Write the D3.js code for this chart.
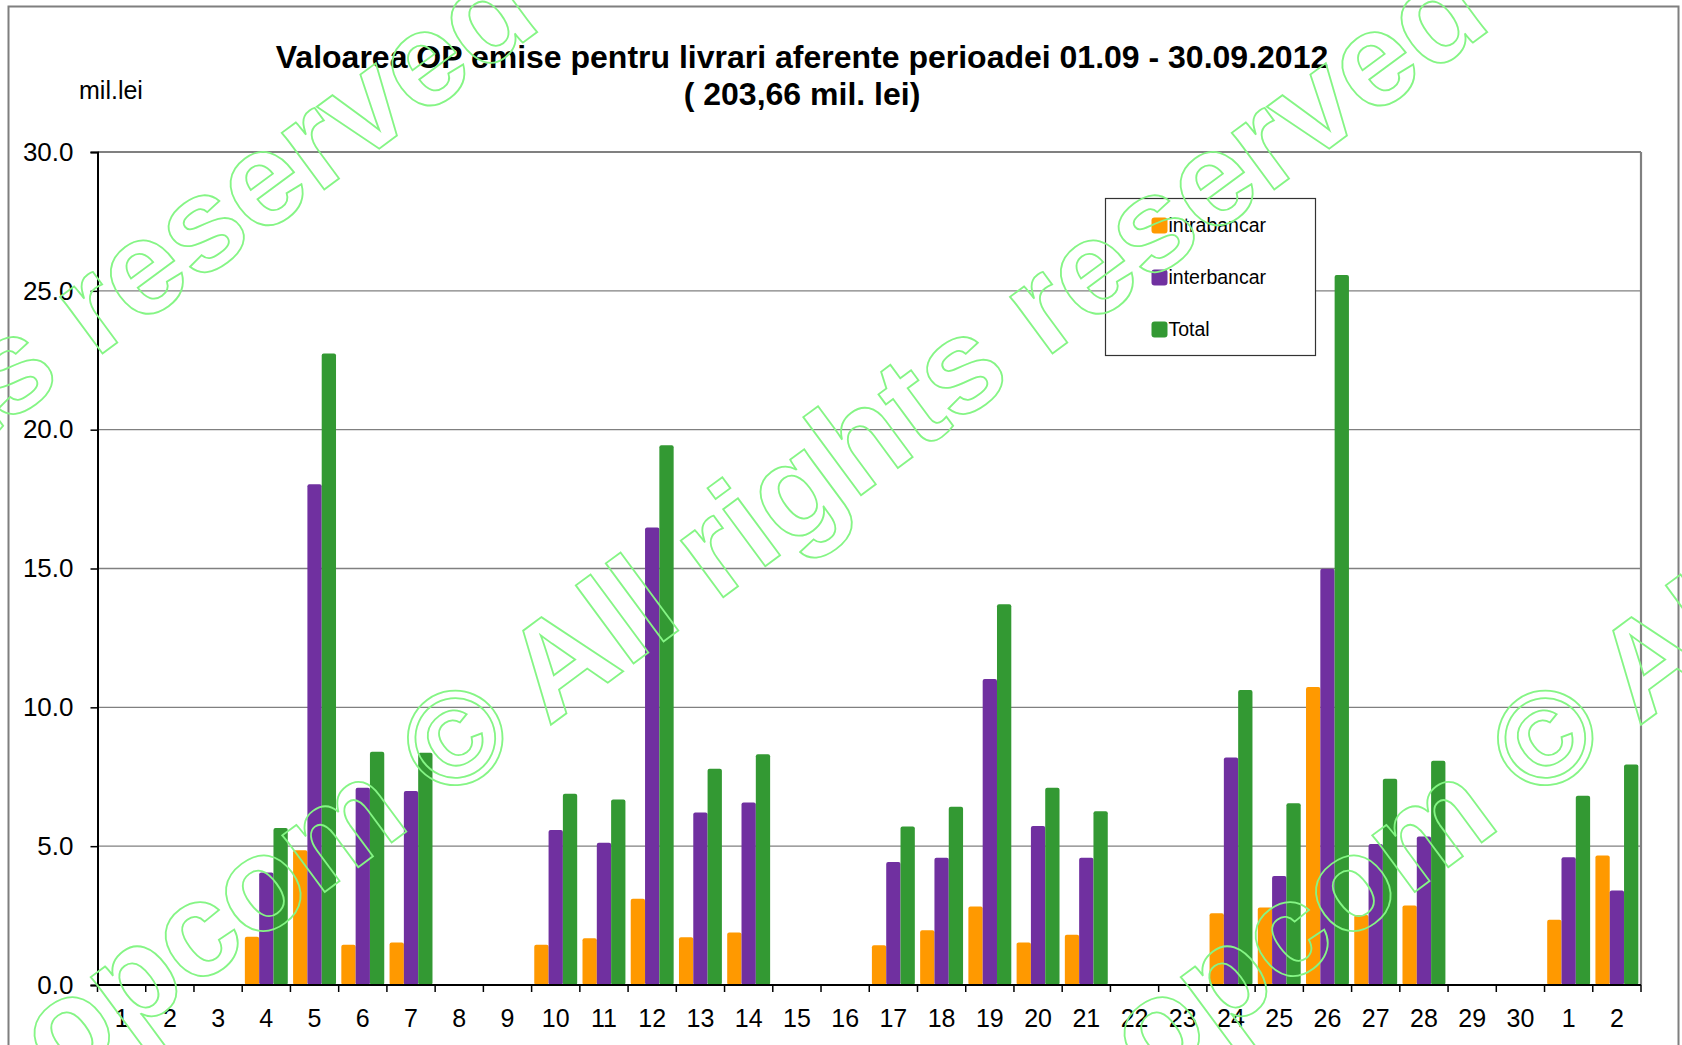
<!DOCTYPE html>
<html>
<head>
<meta charset="utf-8">
<script src="https://cdn.jsdelivr.net/npm/d3@7"></script>
<style>
  body { margin: 0; background: #fff; }
  svg text { font-family: Arial, "Liberation Sans", sans-serif; }
</style>
</head>
<body>
<div id="chart"></div>
<script>

let categories = ["01.09","02.09","03.09","04.09","05.09","06.09","07.09","08.09","09.09","10.09",
  "11.09","12.09","13.09","14.09","15.09","16.09","17.09","18.09","19.09","20.09",
  "21.09","22.09","23.09","24.09","25.09","26.09","27.09","28.09","29.09","30.09","01.10","02.10"]

let tick_labels = ["1","2","3","4","5","6","7","8","9","10","11","12","13","14","15","16",
  "17","18","19","20","21","22","23","24","25","26","27","28","29","30","1","2"]

let series_names = ["intrabancar", "interbancar", "Total"]
let series_colors = ["#FF9900", "#7030A0", "#339933"]

let intrabancar = [0,0,0,1.74,4.85,1.45,1.53,0,0,1.45,1.68,3.11,1.72,1.89,0,0,
  1.43,1.97,2.83,1.53,1.81,0,0,2.58,2.79,10.73,2.52,2.86,0,0,2.35,4.66]
let interbancar = [0,0,0,4.05,18.03,7.10,6.99,0,0,5.58,5.12,16.48,6.21,6.57,0,0,
  4.43,4.58,11.02,5.73,4.58,0,0,8.19,3.93,14.99,5.08,5.35,0,0,4.60,3.40]
let total = [0,0,0,5.65,22.74,8.40,8.36,0,0,6.89,6.68,19.44,7.79,8.31,0,0,
  5.71,6.42,13.71,7.10,6.26,0,0,10.62,6.55,25.57,7.43,8.08,0,0,6.82,7.94]

let y_ticks = [0, 5, 10, 15, 20, 25, 30]

let title_lines = ["Valoarea OP emise pentru livrari aferente perioadei 01.09 - 30.09.2012", "( 203,66 mil. lei)"]
let unit_label = "mil.lei"
let watermark = "opcom \u00A9 All rights reserved"

let values = [intrabancar, interbancar, total]
let data = categories.map((c, i) => ({cat: c, vals: values.map((v, j) => ({name: series_names[j], value: v[i]}))}))

let W = 1682, H = 1045
let margin = {top: 152, right: 41, bottom: 60, left: 97.5}

let svg = d3.select("#chart")
  .append("svg")
  .attr("width", W)
  .attr("height", H)

// outer chart frame
svg.append("rect")
  .attr("x", 8.5).attr("y", 6.5)
  .attr("width", 1670).attr("height", 1100)
  .attr("fill", "none")
  .attr("stroke", "#7f7f7f")
  .attr("stroke-width", 2)

let x0 = margin.left, x1 = W - margin.right
let y0 = H - margin.bottom, y1 = margin.top

let x = d3.scaleBand()
  .domain(categories)
  .range([x0, x1])

let xs = d3.scaleBand()
  .domain(series_names)
  .range([x.step() * 0.055, x.step() * 0.945])

let y = d3.scaleLinear()
  .domain([0, 30])
  .range([y0, y1])

// gridlines
svg.append("g")
  .selectAll("line")
  .data(y_ticks.filter(d => d > 0))
  .enter()
  .append("line")
  .attr("x1", x0).attr("x2", x1)
  .attr("y1", d => y(d)).attr("y2", d => y(d))
  .attr("stroke", "#808080")
  .attr("stroke-width", d => d == 30 ? 2.2 : 1.4)

// plot area right border
svg.append("line")
  .attr("x1", x1).attr("x2", x1)
  .attr("y1", y1).attr("y2", y0)
  .attr("stroke", "#808080")
  .attr("stroke-width", 2.2)

// bars
let groups = svg.selectAll(".day")
  .data(data)
  .enter()
  .append("g")
  .attr("class", "day")
  .attr("transform", d => "translate(" + x(d.cat) + ",0)")

groups.selectAll("rect")
  .data(d => d.vals.filter(v => v.value > 0))
  .enter()
  .append("rect")
  .attr("x", d => xs(d.name))
  .attr("width", xs.bandwidth())
  .attr("y", d => y(d.value))
  .attr("height", d => y0 - y(d.value))
  .attr("rx", 2)
  .attr("fill", d => series_colors[series_names.indexOf(d.name)])

// y axis
let y_axis = svg.append("g")
  .attr("transform", "translate(" + x0 + ",0)")
  .call(d3.axisLeft(y).tickValues(y_ticks).tickFormat(d3.format(".1f")).tickSize(7).tickPadding(17))

y_axis.select(".domain").attr("stroke", "#000").attr("stroke-width", 2)
y_axis.selectAll(".tick line").attr("stroke", "#000").attr("stroke-width", 1.5)
y_axis.selectAll("text")
  .style("font-size", "26px")
  .attr("fill", "#000")

// x axis, ticks at category boundaries
let x_axis = svg.append("g")
  .attr("transform", "translate(0," + y0 + ")")
  .call(d3.axisBottom(x).tickSize(0).tickPadding(24).tickFormat((d, i) => tick_labels[i]))

x_axis.select(".domain").remove()
x_axis.selectAll("text")
  .style("font-size", "25px")
  .attr("fill", "#000")

svg.append("line")
  .attr("x1", x0).attr("x2", x1)
  .attr("y1", y0).attr("y2", y0)
  .attr("stroke", "#000")
  .attr("stroke-width", 2)

svg.append("g")
  .selectAll("line")
  .data(categories.map(c => x(c)).concat([x1]))
  .enter()
  .append("line")
  .attr("x1", d => d).attr("x2", d => d)
  .attr("y1", y0).attr("y2", y0 + 7)
  .attr("stroke", "#000")
  .attr("stroke-width", 1.5)

// titles
svg.selectAll(".title")
  .data(title_lines)
  .enter()
  .append("text")
  .attr("class", "title")
  .attr("x", 802)
  .attr("y", (d, i) => 68 + i * 37)
  .attr("text-anchor", "middle")
  .style("font-size", "32px")
  .style("font-weight", "bold")
  .text(d => d)

svg.append("text")
  .attr("x", 79)
  .attr("y", 99)
  .style("font-size", "25px")
  .text(unit_label)

// legend
let legend = svg.append("g")
  .attr("transform", "translate(1105.5,198.5)")

legend.append("rect")
  .attr("width", 210)
  .attr("height", 157)
  .attr("fill", "#fff")
  .attr("stroke", "#333")
  .attr("stroke-width", 1.2)

let items = legend.selectAll(".item")
  .data(series_names)
  .enter()
  .append("g")
  .attr("class", "item")
  .attr("transform", (d, i) => "translate(46," + (19 + i * 52) + ")")

items.append("rect")
  .attr("width", 16)
  .attr("height", 16)
  .attr("rx", 3)
  .attr("fill", (d, i) => series_colors[i])

items.append("text")
  .attr("x", 17)
  .attr("y", 8)
  .attr("dy", "0.35em")
  .style("font-size", "19.5px")
  .text(d => d)

// watermark stamps
let stamps = [[-890, 1088], [60, 1088], [1150, 1088]]

svg.append("g")
  .selectAll("text")
  .data(stamps)
  .enter()
  .append("text")
  .attr("transform", d => "translate(" + d[0] + "," + d[1] + ") rotate(-36.5)")
  .style("font-size", "134px")
  .style("font-weight", "bold")
  .attr("fill", "none")
  .attr("stroke", "#85f585")
  .attr("stroke-width", 1.8)
  .text(watermark)

</script>
</body>
</html>
